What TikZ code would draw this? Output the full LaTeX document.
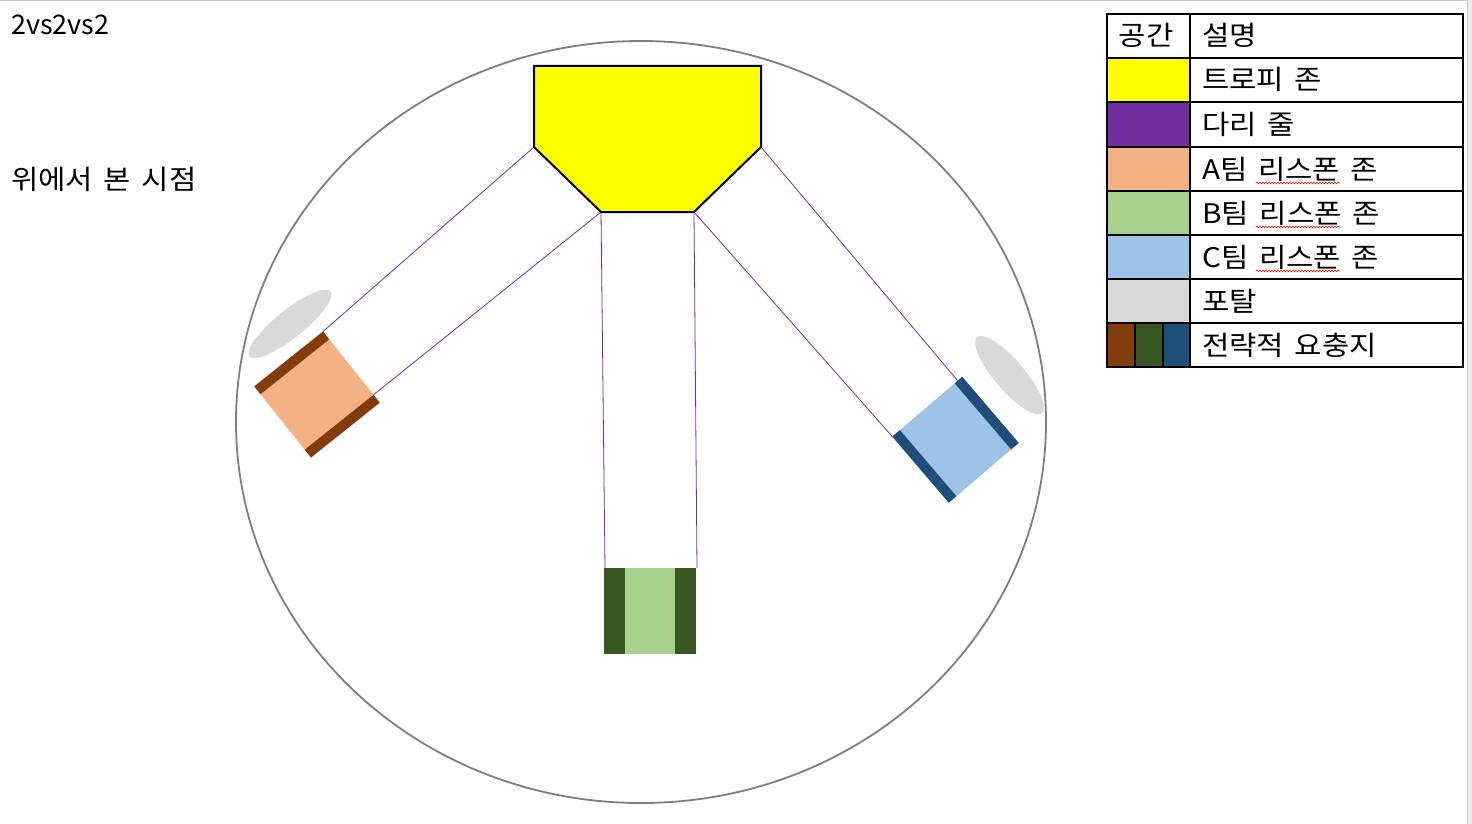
\documentclass[tikz,border=0pt]{standalone}
\usepackage{fontspec}
\setmainfont{Noto Sans CJK KR}[FakeStretch=1.1, WordSpace=1.6]
\newfontfamily\latinplain{Noto Sans CJK KR}
\usetikzlibrary{decorations.pathmorphing}
\definecolor{trophy}{HTML}{FFFF00}
\definecolor{bridgec}{HTML}{7030A0}
\definecolor{spawnA}{HTML}{F4B183}
\definecolor{darkA}{HTML}{843C0C}
\definecolor{spawnB}{HTML}{A9D18E}
\definecolor{darkB}{HTML}{385723}
\definecolor{spawnC}{HTML}{9DC3E6}
\definecolor{darkC}{HTML}{1F4E79}
\definecolor{portalc}{HTML}{D9D9D9}
\definecolor{rimc}{HTML}{7F7F7F}
\tikzset{
  bridge/.style={draw=bridgec, line width=0.8pt},
  lbl/.style={font=\fontsize{27}{32}\selectfont, anchor=base west, inner sep=0pt},
  cell/.style={draw=black, line width=1.4pt},
  spell/.style={draw=red, line width=0.6pt, decorate, decoration={snake, segment length=3pt, amplitude=0.8pt}}
}
\begin{document}
\begin{tikzpicture}[x=1pt,y=-1pt]
\useasboundingbox (0,0) rectangle (1472,824);
\fill[white] (0,0) rectangle (1472,824);
% window edges
\draw[gray!45, line width=1.5pt] (0,0.75) -- (1467,0.75);
\fill[gray!15] (1467,0) rectangle (1472,824);
\draw[gray!40, line width=0.8pt] (1467,0) -- (1467,824);

% titles
\node[lbl] (title) at (11,35) {\latinplain 2vs2vs2};
\node[lbl] (view) at (11,189) {위에서 본 시점};

% arena rim
\draw[rimc, line width=1.8pt] (641,422) ellipse [x radius=405, y radius=381];

% trophy zone corners
\coordinate (t1) at (534,66);
\coordinate (t2) at (761,66);
\coordinate (t3) at (761,147);
\coordinate (t4) at (694,212);
\coordinate (t5) at (601,212);
\coordinate (t6) at (534,147);

% A spawn
\begin{scope}[shift={(317,394.5)}, rotate=38.6]
  \fill[spawnA] (-44,-45.5) rectangle (44,45.5);
  \fill[darkA] (-44,-45.5) rectangle (44,-35.5);
  \fill[darkA] (-44,35.5) rectangle (44,45.5);
  \fill[portalc] (23,-72) ellipse [x radius=52, y radius=14];
  \coordinate (a1) at (44,-45.5);
  \coordinate (a2) at (44,35.5);
\end{scope}

% C spawn
\begin{scope}[shift={(955.5,439.75)}, rotate=40.5]
  \fill[spawnC] (-46,-43.5) rectangle (46,43.5);
  \fill[darkC] (-46,-43.5) rectangle (-36,43.5);
  \fill[darkC] (36,-43.5) rectangle (46,43.5);
  \fill[portalc] (83,-14) ellipse [x radius=15, y radius=50];
  \coordinate (c1) at (40,-43.5);
  \coordinate (c2) at (-46,-43.5);
\end{scope}

% B spawn
\fill[spawnB] (604,568) rectangle (696,654);
\fill[darkB] (604,568) rectangle (625,654);
\fill[darkB] (675,568) rectangle (696,654);
\coordinate (b1) at (605,568);
\coordinate (b2) at (697,568);

% bridges
\draw[bridge] (t6) -- (a1);
\draw[bridge] (t5) -- (a2);
\draw[bridge] (t5) -- (b1);
\draw[bridge] (t4) -- (b2);
\draw[bridge] (t3) -- (c1);
\draw[bridge] (t4) -- (c2);

% trophy zone
\draw[fill=trophy, line width=2pt, line join=miter] (t1) -- (t2) -- (t3) -- (t4) -- (t5) -- (t6) -- cycle;

% legend
\fill[trophy] (1107,58) rectangle (1190,102);
\fill[bridgec] (1107,102) rectangle (1190,147);
\fill[spawnA] (1107,147) rectangle (1190,191);
\fill[spawnB] (1107,191) rectangle (1190,235);
\fill[spawnC] (1107,235) rectangle (1190,279);
\fill[portalc] (1107,279) rectangle (1190,323);
\fill[darkA] (1107,323) rectangle (1135,367);
\fill[darkB] (1135,323) rectangle (1163,367);
\fill[darkC] (1163,323) rectangle (1190,367);
\draw[cell] (1107,14) rectangle (1463,367);
\draw[cell] (1190,14) -- (1190,367);
\foreach \yy in {58,102,147,191,235,279,323} \draw[cell] (1107,\yy) -- (1463,\yy);
\draw[cell] (1135,323) -- (1135,367);
\draw[cell] (1163,323) -- (1163,367);

\node[lbl, anchor=base] (h1) at (1146,46) {공간};
\node[lbl] (h2) at (1202,46) {설명};
\node[lbl] (r1) at (1202,90) {트로피 존};
\node[lbl] (r2) at (1202,134.5) {다리 줄};
\node[lbl] (r3) at (1202,179) {A팀 리스폰 존};
\node[lbl] (r4) at (1202,223) {B팀 리스폰 존};
\node[lbl] (r5) at (1202,267) {C팀 리스폰 존};
\node[lbl] (r6) at (1202,311) {포탈};
\node[lbl] (r7) at (1202,355) {전략적 요충지};

\draw[spell] (1256,183) -- (1340,183);
\draw[spell] (1256,227) -- (1340,227);
\draw[spell] (1256,271) -- (1340,271);
\end{tikzpicture}
\end{document}
